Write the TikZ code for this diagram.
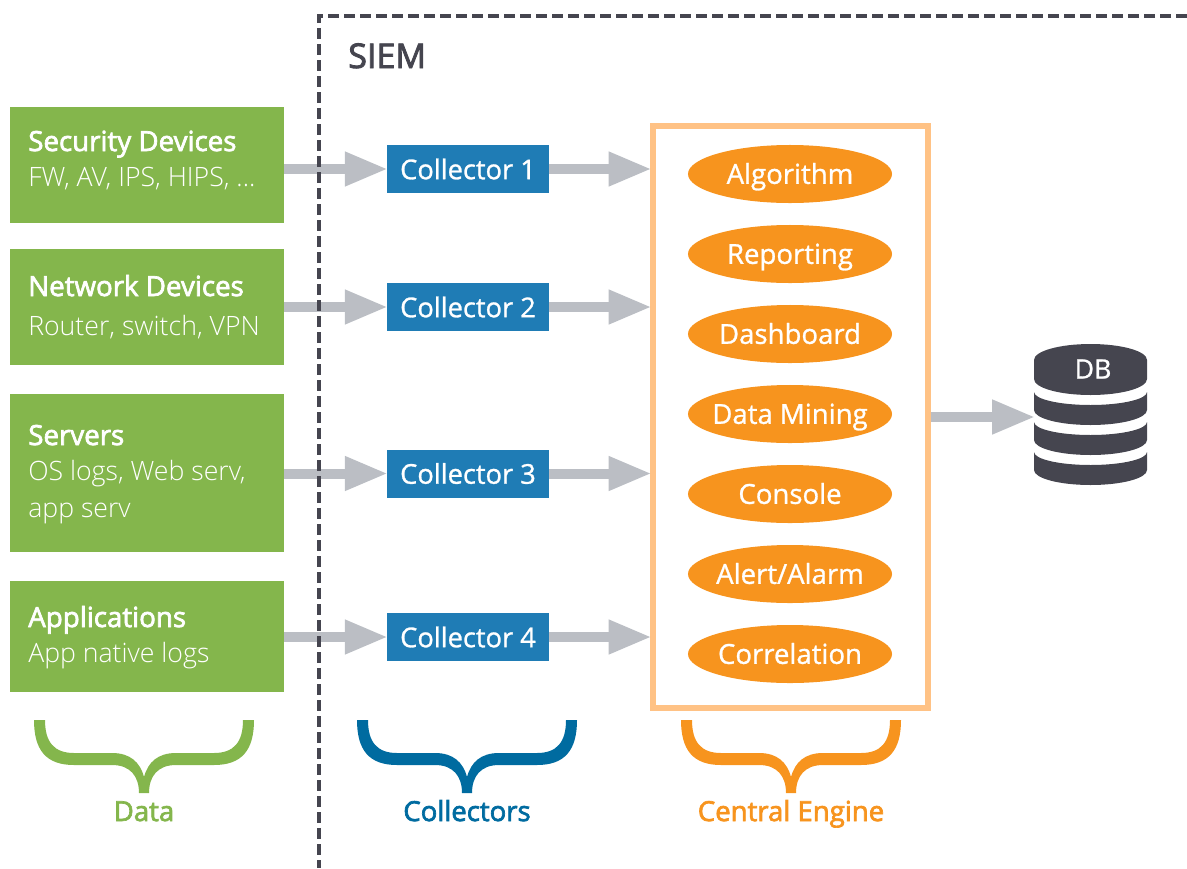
\documentclass[tikz,border=0pt]{standalone}
\usepackage{fontspec}
\setmainfont{Open Sans}
\newfontfamily\semifont[FakeBold=2.5]{Open Sans}
\newfontfamily\midfont[FakeBold=1]{Open Sans}
\newfontfamily\lightfont{Open Sans Light}
\usetikzlibrary{arrows.meta,shapes.geometric}

\definecolor{datagreen}{HTML}{84B64C}
\definecolor{collblue}{HTML}{1F7CB5}
\definecolor{bracblue}{HTML}{006BA0}
\definecolor{engorange}{HTML}{F7941E}
\definecolor{framepeach}{HTML}{FFC285}
\definecolor{arrowgray}{HTML}{BBBEC4}
\definecolor{darkgray}{HTML}{45454F}

\tikzset{
  databox/.style={fill=datagreen,minimum width=6.85cm,inner sep=0},
  collbox/.style={fill=collblue,text=white,minimum width=4.05cm,minimum height=1.2cm,inner sep=0,font=\midfont\fontsize{19.4}{19.4}\selectfont},
  engbox/.style={draw=framepeach,line width=.15cm,minimum width=6.85cm,minimum height=14.55cm,inner sep=0},
  engitem/.style={ellipse,fill=engorange,text=white,minimum width=5.1cm,minimum height=1.45cm,inner xsep=-.6cm,inner ysep=0,text height=14pt,text depth=0pt,font=\midfont\fontsize{19.6}{19.6}\selectfont},
  headtext/.style={anchor=base west,text=white,inner sep=0,font=\semifont\fontsize{19.7}{19.7}\selectfont},
  subtext/.style={anchor=base west,text=white,inner sep=0,font=\lightfont\fontsize{18.95}{18.95}\selectfont},
  bractext/.style={anchor=base,inner sep=0,font=\semifont\fontsize{19.6}{19.6}\selectfont},
  flow/.style={-{Triangle[length=1.075cm,width=.8cm]},arrowgray,line width=.25cm,shorten >=-.03cm},
}

\begin{document}
\begin{tikzpicture}[x=.025cm,y=-.025cm]
\useasboundingbox (0,0) rectangle (1187,868);

\node (dev1) at (147,165)[databox,minimum height=2.9cm]{};
\node (dev2) at (147,307)[databox,minimum height=2.9cm]{};
\node (dev3) at (147,473)[databox,minimum height=3.95cm]{};
\node (dev4) at (147,636.5)[databox,minimum height=2.775cm]{};

\node (dev1a) at (28,151)[headtext]{Security Devices};
\node (dev1b) at (28,186)[subtext]{FW, AV, IPS, HIPS, ...};
\node (dev2a) at (28,296)[headtext]{Network Devices};
\node (dev2b) at (28,335)[subtext]{Router, switch, VPN};
\node (dev3a) at (28,445)[headtext]{Servers};
\node (dev3b) at (28,480)[subtext]{OS logs, Web serv,};
\node (dev3c) at (28,517)[subtext]{app serv};
\node (dev4a) at (28,627)[headtext]{Applications};
\node (dev4b) at (28,662)[subtext]{App native logs};

\node (col1) at (468,169)[collbox]{Collector 1};
\node (col2) at (468,307)[collbox]{Collector 2};
\node (col3) at (468,473.5)[collbox]{Collector 3};
\node (col4) at (468,637)[collbox]{Collector 4};

\node (engine) at (790.5,417)[engbox]{};
\node (alg) at (790,174)[engitem]{Algorithm};
\node (rep) at (790,254)[engitem]{Reporting};
\node (dash) at (790,334)[engitem]{Dashboard};
\node (mine) at (790,414)[engitem]{Data Mining};
\node (cons) at (790,494)[engitem]{Console};
\node (alert) at (790,574)[engitem]{Alert/Alarm};
\node (corr) at (790,654)[engitem]{Correlation};

\foreach \n in {1,...,4}{
  \draw[flow] (dev\n.east |- col\n.west) -- (col\n.west);
  \draw[flow] (col\n.east) -- (col\n.east -| engine.west);
}

\draw[darkgray,line width=.08cm,dash pattern=on .275cm off .125cm] (1187,16) -- (319,16) -- (319,868);
\node (siem) at (348,68)[anchor=base west,text=darkgray,inner sep=0,font=\semifont\fontsize{24.2}{24.2}\selectfont]{SIEM};

% database
\fill[darkgray] (1034,360) arc[start angle=180,end angle=360,x radius=56.5,y radius=16] -- (1147,379) arc[start angle=0,end angle=180,x radius=56.5,y radius=16] -- cycle;
\foreach \y in {392,422,452}{
  \fill[darkgray] (1034,\y) arc[start angle=180,end angle=0,x radius=56.5,y radius=13] -- (1147,\y+18) arc[start angle=0,end angle=180,x radius=56.5,y radius=15] -- cycle;
}
\node (db) at (1093,369)[text=white,inner sep=0,font=\midfont\fontsize{19}{19}\selectfont]{DB};
\coordinate (dbin) at (1034,417);
\draw[flow] (engine.east |- dbin) -- (dbin);

% braces
\foreach \bx/\bc in {34/datagreen,357/bracblue,681/engorange}{
  \fill[\bc,shift={(\bx,720)}] (0,0) .. controls (0,30) and (12,45) .. (40,45) -- (78,45) .. controls (96,45) and (105,56) .. (105,73) -- (115,73) .. controls (115,56) and (124,45) .. (142,45) -- (180,45) .. controls (208,45) and (220,30) .. (220,0) -- (209,0) .. controls (209,22) and (200,33) .. (180,33) -- (142,33) .. controls (124,33) and (114,42) .. (110,57) .. controls (106,42) and (96,33) .. (78,33) -- (40,33) .. controls (20,33) and (11,22) .. (11,0) -- cycle;
}
\node (ldata) at (144,821)[bractext,text=datagreen]{Data};
\node (lcoll) at (467,821)[bractext,text=bracblue]{Collectors};
\node (lcent) at (791,821)[bractext,text=engorange]{Central Engine};

\end{tikzpicture}
\end{document}
